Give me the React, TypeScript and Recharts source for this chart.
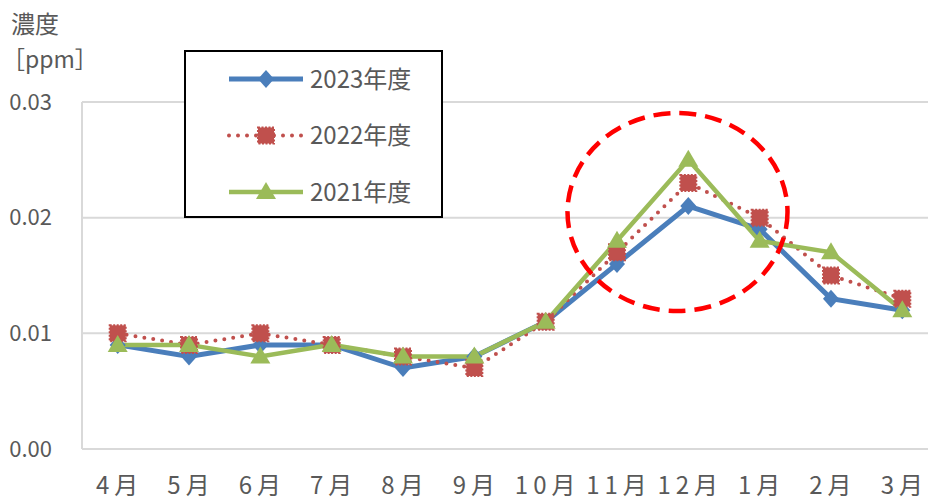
import React from 'react';
import { LineChart, Line, XAxis, YAxis, CartesianGrid } from 'recharts';

const months = ['4月', '5月', '6月', '7月', '8月', '9月', '10月', '11月', '12月', '1月', '2月', '3月'];
const fy2023 = [0.009, 0.008, 0.009, 0.009, 0.007, 0.008, 0.011, 0.016, 0.021, 0.019, 0.013, 0.012];
const fy2022 = [0.010, 0.009, 0.010, 0.009, 0.008, 0.007, 0.011, 0.017, 0.023, 0.020, 0.015, 0.013];
const fy2021 = [0.009, 0.009, 0.008, 0.009, 0.008, 0.008, 0.011, 0.018, 0.025, 0.018, 0.017, 0.012];
const yTicks = [0, 0.01, 0.02, 0.03];

const data = months.map((m, i) => ({ month: m, fy2023: fy2023[i], fy2022: fy2022[i], fy2021: fy2021[i] }));

const FONT = '"Noto Sans CJK JP", "Noto Sans", sans-serif';
const TEXT = '#595959';
const GRID = '#d9d9d9';
const BLUE = '#4a7ebb';
const RED = '#c0504d';
const GREEN = '#9bbb59';

const Diamond = ({ cx, cy }: any) => (
  <path d={`M${cx},${cy - 9} L${cx + 8},${cy} L${cx},${cy + 9} L${cx - 8},${cy} Z`} fill={BLUE} />
);

const Square = ({ cx, cy }: any) => (
  <rect x={cx - 8} y={cy - 8} width={16} height={16} fill={RED} stroke={RED} strokeWidth={2} strokeDasharray="2 1.5" />
);

const Triangle = ({ cx, cy }: any) => (
  <path d={`M${cx},${cy - 10} L${cx + 10},${cy + 7} L${cx - 10},${cy + 7} Z`} fill={GREEN} />
);

const series = [
  { key: 'fy2023', name: '2023年度', color: BLUE, width: 5, dash: undefined as string | undefined, Dot: Diamond },
  { key: 'fy2022', name: '2022年度', color: RED, width: 4, dash: '0 9', Dot: Square },
  { key: 'fy2021', name: '2021年度', color: GREEN, width: 4.5, dash: undefined as string | undefined, Dot: Triangle },
];

function ChartLegend() {
  return (
    <div
      style={{
        position: 'absolute', left: 184, top: 50, width: 255, height: 164,
        border: '2px solid #000', background: '#fff',
      }}
    >
      <svg width={255} height={164}>
        {series.map((s, i) => {
          const y = 27 + i * 56.5;
          const { Dot } = s;
          return (
            <g key={s.key}>
              <line x1={43} x2={117} y1={y} y2={y} stroke={s.color} strokeWidth={s.width}
                strokeDasharray={s.dash} strokeLinecap={s.dash ? 'round' : 'butt'} />
              <Dot cx={80} cy={y} />
              <text x={124} y={y} dy="0.36em" fontSize={24} fill={TEXT} fontFamily={FONT}>{s.name}</text>
            </g>
          );
        })}
      </svg>
    </div>
  );
}

export default function App() {
  return (
    <div style={{ position: 'absolute', left: 0, top: 0, width: 928, height: 503, overflow: 'hidden', background: '#fff', fontFamily: FONT }}>
      <LineChart width={950} height={503} data={data} margin={{ top: 102, right: 12, left: 0, bottom: 0 }}>
        <CartesianGrid vertical={false} stroke={GRID} strokeWidth={2} />
        <XAxis
          dataKey="month"
          height={54}
          padding={{ left: 35.7, right: 35.7 }}
          axisLine={{ stroke: GRID, strokeWidth: 2 }}
          tickLine={false}
          tickSize={0}
          tickMargin={28}
          interval={0}
          tick={{ fill: TEXT, fontSize: 24, fontFamily: FONT, letterSpacing: 5, dx: 2 }}
        />
        <YAxis
          width={82}
          domain={[0, 0.03]}
          ticks={yTicks}
          axisLine={{ stroke: GRID, strokeWidth: 2 }}
          tickLine={false}
          tickSize={0}
          tickMargin={30}
          tickFormatter={(v: number) => v.toFixed(2)}
          tick={{ fill: TEXT, fontSize: 22, fontFamily: FONT }}
        />
        {series.map((s) => (
          <Line
            key={s.key}
            type="linear"
            dataKey={s.key}
            name={s.name}
            stroke={s.color}
            strokeWidth={s.width}
            strokeDasharray={s.dash}
            strokeLinecap={s.dash ? 'round' : 'butt'}
            dot={<s.Dot />}
            activeDot={false}
            isAnimationActive={false}
          />
        ))}
      </LineChart>
      <svg width={928} height={503} style={{ position: 'absolute', left: 0, top: 0, pointerEvents: 'none' }}>
        <text x={11} y={24} dy="0.36em" fontSize={24} fill={TEXT} fontFamily={FONT}>濃度</text>
        <text x={2} y={60} dy="0.36em" fontSize={23} fill={TEXT} fontFamily={FONT}>［ppm］</text>
        <ellipse cx={677.5} cy={212} rx={110} ry={99} fill="none" stroke="#ff0000" strokeWidth={4.5} strokeDasharray="17 9" />
      </svg>
      <ChartLegend />
    </div>
  );
}
